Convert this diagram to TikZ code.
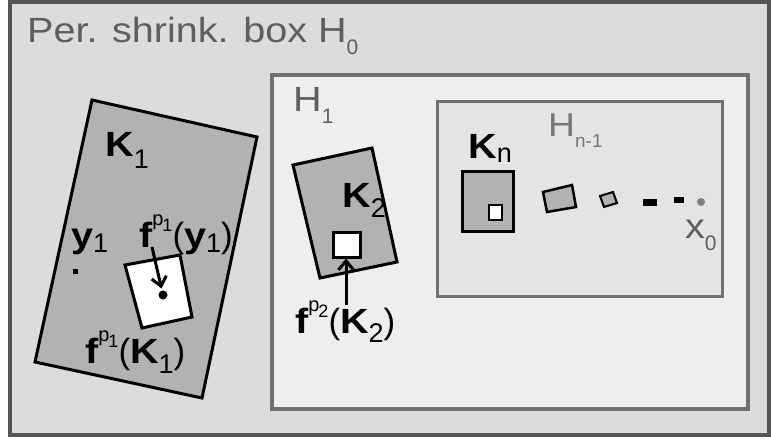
\documentclass[tikz,border=0pt]{standalone}
\usepackage{fontspec}
\setmainfont{Liberation Sans}[FakeStretch=1.13]
\newfontfamily\plainfam{Liberation Sans}
\usetikzlibrary{arrows.meta}
\definecolor{frmgray}{RGB}{85,85,85}
\definecolor{hgray}{RGB}{112,112,112}
\definecolor{txtgray}{RGB}{95,95,95}
\definecolor{outerfill}{RGB}{220,220,220}
\definecolor{honefill}{RGB}{238,238,238}
\definecolor{hnfill}{RGB}{228,228,228}
\definecolor{kfill}{RGB}{178,178,178}
\newcommand{\gsub}[1]{\raisebox{-12pt}{\plainfam\fontsize{21}{21}\selectfont #1}}
\newcommand{\ksub}[2][9pt]{\raisebox{-#1}{\plainfam\mdseries\fontsize{27}{27}\selectfont #2}}
\newcommand{\fpow}[1]{f\raisebox{22pt}{\plainfam\mdseries\fontsize{20}{20}\selectfont p\kern-1pt\raisebox{-6pt}{\fontsize{18}{18}\selectfont #1}}}
\newcommand{\lpar}{{\plainfam\mdseries(}}
\newcommand{\rpar}{{\plainfam\mdseries)}}
\tikzset{
  lbl/.style={inner sep=0pt, anchor=base west, font=\fontsize{35}{40}\selectfont},
  blbl/.style={lbl, font=\fontsize{35}{40}\selectfont\bfseries},
  kbox/.style={draw=black, fill=kfill, line width=3pt, line join=miter},
  whitebox/.style={draw=black, fill=white, line width=3pt},
  maparrow/.style={-{Straight Barb[length=9pt,width=15pt,line width=3pt]}, line width=3pt}
}
\begin{document}
\begin{tikzpicture}[x=1pt,y=-1pt]
  \useasboundingbox (0,0) rectangle (771,441);
  %% Periodic shrinking box H_0
  \draw[draw=frmgray, fill=outerfill, line width=4pt] (10,2) rectangle (769,435);
  \node[lbl, text=txtgray] (hzero) at (27,43) {Per. shrink. box H\gsub{0}};

  %% H_1 box
  \draw[draw=hgray, fill=honefill, line width=4pt] (272,75) rectangle (748,409);
  \node[lbl, text=txtgray] (hone) at (293,112) {H\gsub{1}};

  %% H_{n-1} box
  \draw[draw=hgray, fill=hnfill, line width=3pt] (437,102) rectangle (722,296);
  \node[lbl, text=txtgray!85, font=\fontsize{33}{40}\selectfont] (hn) at (548,137) {H\raisebox{-10pt}{\plainfam\fontsize{19}{19}\selectfont n-1}};

  %% K_1 and its image
  \draw[kbox] (92,100) -- (257,137) -- (202,398) -- (35,362) -- cycle;
  \draw[whitebox] (125,265) -- (180,255) -- (192,317) -- (142,328) -- cycle;
  \node[blbl] (kone) at (105,157) {K\ksub[12pt]{1}};
  \node[circle, fill=black, inner sep=0pt, minimum size=9pt] (fyone) at (163,295) {};
  \node[fill=black, inner sep=0pt, minimum size=5pt] (yone) at (75,271) {};
  \node[blbl] (yonelbl) at (71,247) {y\ksub[5pt]{1}};
  \node[blbl] (fyonelbl) at (139,247) {\fpow{1}\lpar y\ksub[5pt]{1}\rpar};
  \node[blbl] (fkonelbl) at (85,363) {\fpow{1}\lpar K\ksub[10pt]{1}\rpar};
  \coordinate (fyfrom) at (152,247);
  \draw[maparrow, shorten >=2pt] (fyfrom) -- (fyone);

  %% K_2 and its image
  \draw[kbox] (293,165) -- (372,148) -- (397,262) -- (320,278) -- cycle;
  \node[draw=black, fill=white, line width=3pt, minimum width=27pt, minimum height=25pt, inner sep=0pt] (fktwo) at (346.5,244.5) {};
  \node[blbl] (ktwo) at (342,207) {K\ksub[10pt]{2}};
  \node[blbl] (fktwolbl) at (295,333) {\fpow{2}\lpar K\ksub[9pt]{2}\rpar};
  \coordinate (fkfrom) at (346,305);
  \draw[maparrow] (fkfrom) -- (fktwo.south -| fkfrom);

  %% K_n and the orbit towards x_0
  \draw[kbox] (462,171) rectangle (513,231);
  \draw[whitebox, line width=2.5pt] (489,205) rectangle (502,220);
  \node[blbl] (kn) at (468,158) {K\ksub[5pt]{n}};
  \draw[kbox, line width=2.5pt] (543,192) -- (572,185) -- (576,207) -- (547,212) -- cycle;
  \draw[kbox, line width=2pt] (600,196) -- (613,192) -- (617,203) -- (604,207) -- cycle;
  \fill[black] (643,199) rectangle (657,206);
  \fill[black] (674,197) rectangle (684,203);
  \node[circle, fill=gray, inner sep=0pt, minimum size=8pt] (xzero) at (701,202) {};
  \node[lbl, text=txtgray] (xzerolbl) at (685,238) {x\gsub{0}};
\end{tikzpicture}
\end{document}
